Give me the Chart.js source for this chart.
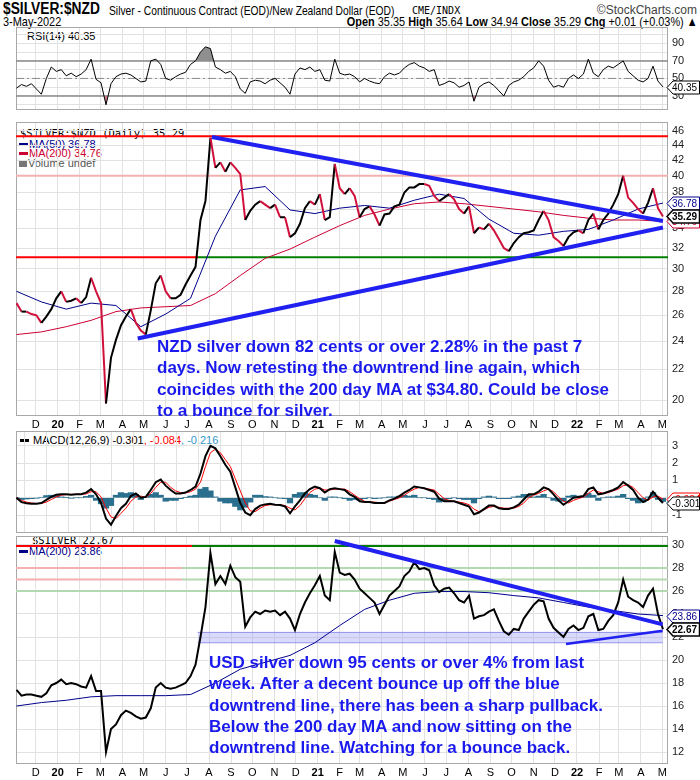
<!DOCTYPE html>
<html>
<head>
<meta charset="utf-8">
<title>$SILVER:$NZD</title>
<script src="https://cdn.jsdelivr.net/npm/chart.js@4.4.1/dist/chart.umd.min.js"></script>
<style>
  body { margin: 0; width: 700px; height: 780px; position: relative; overflow: hidden; background: #fff;
         font-family: 'Liberation Sans', Arial, sans-serif; color: #000; }
  canvas { position: absolute; left: 0; z-index: 1; }
  .lbl { position: absolute; white-space: nowrap; line-height: 1; z-index: 0; }
  .mono { font-family: 'DejaVu Sans Mono', monospace; font-size: 10.5px; }
  .key { font-size: 11px; }
  .bar { display: inline-block; width: 9px; height: 3px; vertical-align: middle; margin: 0 1px 2px 0; }
  .note { position: absolute; z-index: 2; color: #1a1aee; font: bold 17px 'Liberation Sans', Arial, sans-serif;
          line-height: 21.3px; white-space: nowrap; }
</style>
</head>
<body>

<div class="lbl" style="left:3px;top:1px;font-size:16px;font-weight:bold;transform:scaleX(.86);transform-origin:0 0">$SILVER:$NZD</div>
<div class="lbl" style="left:109px;top:4px;font-size:13px;transform:scaleX(.79);transform-origin:0 0">Silver - Continuous Contract (EOD)/New Zealand Dollar (EOD)</div>
<div class="lbl" style="left:412px;top:5px;font:10px 'DejaVu Sans Mono',monospace">CME/INDX</div>
<div class="lbl" style="right:3px;top:4px;font-size:12px;color:#444">©StockCharts.com</div>
<div class="lbl" style="left:3px;top:15px;font-size:13px;transform:scaleX(.84);transform-origin:0 0">3-May-2022</div>
<div class="lbl" style="right:2px;top:15px;font-size:13px;transform:scaleX(.84);transform-origin:100% 0"><b>Open</b> 35.35 <b>High</b> 35.64 <b>Low</b> 34.94 <b>Close</b> 35.29 <b>Chg</b> +0.01 (+0.03%) ▲</div>

<div class="lbl key" style="left:27px;top:31px">RSI(14) 40.35</div>

<div class="lbl mono" style="left:20px;top:128px">$SILVER:$NZD (Daily) 35.29</div>
<div class="lbl key" style="left:19px;top:139px;color:#00008b"><span class="bar" style="background:#00008b"></span>MA(50) 36.78</div>
<div class="lbl key" style="left:19px;top:148px;color:#cc0033"><span class="bar" style="background:#cc0033"></span>MA(200) 34.76</div>
<div class="lbl key" style="left:19px;top:158px;color:#555"><span class="bar" style="background:#777;width:8px;height:7px"></span>Volume undef</div>

<div class="lbl key" style="left:20px;top:435px"><span class="bar" style="background:#000"></span> MACD(12,26,9) -0.301<span style="color:#f00">, -0.084</span><span style="color:#3399cc">, -0.216</span></div>

<div class="lbl mono" style="left:32px;top:535px">$SILVER 22.67</div>
<div class="lbl key" style="left:19px;top:546px;color:#00008b"><span class="bar" style="background:#00008b"></span>MA(200) 23.86</div>

<div class="note" style="left:157px;top:336px">NZD silver down 82 cents or over 2.28% in the past 7<br>days. Now retesting the downtrend line again, which<br>coincides with the 200 day MA at $34.80. Could be close<br>to a bounce for silver.</div>
<div class="note" style="left:209px;top:652px">USD silver down 95 cents or over 4% from last<br>week. After a decent bounce up off the blue<br>downtrend line, there has been a sharp pullback.<br>Below the 200 day MA and now sitting on the<br>downtrend line. Watching for a bounce back.</div>

<canvas id="rsiChart" width="700" height="83" style="top:27px"></canvas>
<canvas id="nzdChart" width="700" height="310" style="top:122px"></canvas>
<canvas id="macdChart" width="700" height="102" style="top:431px"></canvas>
<canvas id="usdChart" width="700" height="244" style="top:536px"></canvas>

<script>
// one value per week, first week = Mon 4-Nov-2019 (day -27 counted from 1-Dec-2019)
const firstDay = -27;
const weekStep = 7;

const nzdClose = [27.0,26.3,26.3,26.1,26.0,25.4,25.9,26.5,27.4,28.0,27.1,27.2,27.4,27.0,27.5,29.2,28.0,27.0,19.8,22.8,
  24.1,25.2,25.9,26.5,25.4,24.8,24.5,26.4,28.7,29.4,28.0,27.4,27.4,27.7,28.6,29.4,30.2,34.9,37.0,45.0,
  41.0,41.7,40.5,41.7,41.0,40.2,34.9,35.9,36.6,37.0,36.6,36.2,36.6,35.2,35.2,33.1,33.5,34.5,36.2,37.0,
  36.6,37.8,34.9,35.2,41.5,38.5,37.8,38.5,37.6,35.2,36.1,36.4,35.5,34.3,35.5,35.6,36.4,36.6,38.0,38.6,
  38.6,39.0,39.0,38.8,37.6,37.0,37.4,37.8,37.2,36.1,35.6,36.4,33.5,34.1,33.9,34.5,33.8,32.9,32.0,31.7,
  32.5,33.1,33.5,33.6,33.8,34.9,35.9,34.9,33.1,32.7,32.2,33.1,33.6,33.8,33.5,34.9,35.6,33.9,34.9,35.6,
  36.6,37.8,40.0,37.4,36.8,36.1,35.6,36.8,38.5,36.2,35.29];

const usdClose = [17.4,16.9,17.0,17.0,16.9,16.8,17.1,17.8,18.0,18.3,17.9,18.0,17.9,17.7,17.6,18.6,17.3,17.3,12.0,14.0,
  14.4,15.2,15.6,15.4,15.1,14.9,15.0,15.8,17.6,18.0,17.6,17.5,17.6,17.8,18.0,18.6,19.6,22.0,24.6,29.3,
  26.6,27.3,26.6,28.2,27.2,26.8,22.9,23.7,24.2,24.0,24.3,24.2,24.3,23.9,24.2,23.6,22.6,24.0,25.0,25.8,
  26.5,27.3,25.6,25.2,29.4,27.6,27.4,27.5,27.0,26.2,25.8,25.4,25.0,24.0,24.8,25.6,26.0,26.4,27.3,27.7,
  28.5,27.9,28.0,27.8,26.5,25.9,26.2,26.3,25.8,25.2,25.0,25.6,23.6,23.8,23.9,24.2,24.4,23.4,22.5,22.2,
  22.7,22.6,23.6,24.2,24.8,25.2,25.1,23.6,22.8,22.4,22.0,22.7,23.0,22.6,22.8,23.8,24.0,22.6,22.7,23.4,
  23.9,25.0,27.0,25.5,25.2,25.0,24.6,25.6,26.2,24.0,22.67];

const rsi14 = [39,43,41,44,38,32,50,63,58,60,53,56,52,55,60,72,49,45,20,44,
  52,55,56,54,50,46,47,70,72,66,50,48,52,55,57,66,70,80,86,84,
  63,60,56,58,52,38,33,46,48,47,44,48,50,45,40,32,55,62,60,63,
  58,60,48,47,72,56,54,55,52,46,50,47,45,44,52,56,54,56,62,66,
  68,64,62,58,60,42,44,47,45,40,42,46,24,40,44,46,42,36,30,42,
  46,48,52,58,62,70,64,48,40,42,40,50,54,50,55,72,56,52,60,64,
  62,66,70,58,53,48,46,50,64,47,40.35];

const macdLine = [0,-0.25,-0.32,-0.35,-0.35,-0.3,-0.12,0.05,0.18,0.2,0.2,0.18,0.2,0.2,0.3,0.5,0.2,-0.3,-1.2,-1.55,
  -1.05,-0.6,-0.35,0.1,0.25,0,0.05,0.45,0.9,1.05,0.7,0.45,0.25,0.25,0.3,0.45,0.65,1.4,2.4,3.0,
  2.85,2.4,1.9,1.5,0.6,-0.3,-0.85,-1.0,-0.65,-0.45,-0.38,-0.35,-0.4,-0.42,-0.5,-0.9,-0.5,-0.15,0.25,0.5,
  0.65,0.55,0.3,0.5,0.55,0.5,0.45,0.2,0.05,-0.2,-0.25,-0.25,-0.3,-0.3,-0.3,-0.15,-0.05,0.1,0.3,0.45,
  0.65,0.6,0.55,0.45,0.35,-0.05,-0.2,-0.2,-0.2,-0.3,-0.4,-0.5,-0.95,-0.85,-0.65,-0.45,-0.45,-0.6,-0.65,-0.65,
  -0.55,-0.4,-0.1,0.2,0.2,0.35,0.6,0.5,0.2,-0.15,-0.4,-0.2,0,0.05,0.1,0.5,0.6,0.2,0.25,0.35,
  0.45,0.6,0.9,0.7,0.45,0,-0.25,-0.1,0.35,0,-0.301];

const macdSignal = [0,-0.15,-0.25,-0.3,-0.33,-0.33,-0.25,-0.1,0.05,0.15,0.18,0.2,0.2,0.2,0.22,0.35,0.35,0.05,-0.6,-1.1,
  -1.2,-0.9,-0.6,-0.2,0.05,0.1,0.02,0.25,0.6,0.9,0.9,0.6,0.4,0.3,0.28,0.35,0.5,0.9,1.8,2.6,
  2.8,2.6,2.2,1.8,1.1,0.4,-0.3,-0.75,-0.8,-0.6,-0.45,-0.4,-0.4,-0.4,-0.45,-0.6,-0.7,-0.45,-0.05,0.3,
  0.5,0.55,0.45,0.45,0.5,0.5,0.5,0.35,0.15,-0.05,-0.2,-0.25,-0.25,-0.28,-0.3,-0.2,-0.1,0,0.15,0.35,
  0.5,0.6,0.55,0.5,0.45,0.2,-0.05,-0.15,-0.2,-0.25,-0.3,-0.4,-0.65,-0.8,-0.7,-0.55,-0.5,-0.55,-0.6,-0.6,
  -0.6,-0.5,-0.3,0,0.15,0.25,0.4,0.5,0.35,0.05,-0.2,-0.3,-0.15,-0.05,0.05,0.25,0.45,0.35,0.25,0.3,
  0.4,0.5,0.7,0.75,0.6,0.3,0,-0.15,0.05,0.1,-0.084];

const macdHist = [0,-0.1,-0.07,-0.05,-0.02,0.03,0.13,0.15,0.13,0.05,0.02,-0.02,0,0,0.08,0.15,-0.15,-0.35,-0.6,-0.45,
  0.15,0.3,0.25,0.3,0.2,-0.1,0.03,0.2,0.3,0.15,-0.2,-0.15,-0.15,-0.05,0.02,0.1,0.15,0.5,0.6,0.4,
  0.05,-0.2,-0.3,-0.3,-0.5,-0.7,-0.55,-0.25,0.15,0.15,0.07,0.05,0,-0.02,-0.05,-0.3,0.2,0.3,0.3,0.2,
  0.15,0,-0.15,0.05,0.05,0,-0.05,-0.15,-0.1,-0.15,-0.05,0,-0.05,-0.02,0,0.05,0.05,0.1,0.15,0.1,
  0.15,0,0,-0.05,-0.1,-0.25,-0.15,-0.05,0,-0.05,-0.1,-0.1,-0.3,-0.05,0.05,0.1,0.05,-0.05,-0.05,-0.05,
  0.05,0.1,0.2,0.2,0.05,0.1,0.2,0,-0.15,-0.2,-0.2,0.1,0.15,0.1,0.05,0.25,0.15,-0.15,0,0.05,
  0.05,0.1,0.2,-0.05,-0.15,-0.3,-0.25,0.05,0.3,-0.1,-0.216];

// moving averages, read every 5th week
const maStep = 5;
const nzdMa50 = [28.0,27.1,26.5,27.0,26.8,25.1,26.1,27.4,33.2,38.3,38.7,36.0,35.6,36.2,36.5,36.2,37.1,37.8,37.3,35.0,
  33.5,33.3,33.7,33.9,34.9,36.1,36.78];
const nzdMa200 = [24.5,24.7,25.1,25.6,26.3,26.6,26.7,26.8,27.8,29.4,31.0,31.9,33.1,34.3,35.4,36.1,36.7,36.9,36.7,36.4,
  36.1,35.8,35.4,35.1,34.9,34.9,34.76];
const usdMa200 = [16.0,16.3,16.5,16.8,16.9,16.9,16.9,17.0,18.0,19.2,19.8,20.4,21.5,23.0,24.4,25.2,25.8,25.95,25.95,25.85,
  25.6,25.4,25.0,24.6,24.3,24.0,23.86];

// drawn-in lines: [day, price]
const nzdDownTrend = [[248, 45.1], [883, 34.8]];
const nzdUpTrend = [[143.6, 24.2], [883, 34.1]];
const usdDownTrend = [[421, 30.35], [882.6, 23.1]];
const usdUpTrend = [[746.5, 21.4], [882.6, 22.55]];
const nzdLevels = [45.2, 40, 31.1];
const usdLevels = [29.9, 28, 27, 26];
const usdBand = [21.5, 22.4];

const nzdTicks = [20, 22, 24, 26, 28, 30, 32, 34, 36, 38, 40, 42, 44, 46];
const usdTicks = [12, 14, 16, 18, 20, 22, 24, 26, 28, 30];
const rsiTicks = [20, 30, 40, 50, 60, 70, 80, 90, 100];
const rsiLabels = [30, 50, 70, 90];
const macdTicks = [-1, 0, 1, 2, 3];

const dayMin = -27.7, dayMax = 890.1;
const RED = '#d0103a', NAVY = '#00008b', BLUE = '#2020f0';

const monthStarts = [];
for (let y = 2019, m = 11; y < 2022 || m <= 4;) {
  const day = (Date.UTC(y, m, 1) - Date.UTC(2019, 11, 1)) / 864e5;
  monthStarts.push({ day, label: m === 0 ? String(y).slice(2) : 'JFMAMJJASOND'[m], year: m === 0 });
  m++;
  if (m > 11) { m = 0; y++; }
}

const weekX = i => firstDay + weekStep * i;
const series = (vals, step) => vals.map((v, i) => ({ x: weekX(i * step), y: v }));
const pts = arr => arr.map(p => ({ x: p[0], y: p[1] }));
const flat = (y, from, to) => [{ x: from, y }, { x: to, y }];
const line = (data, color, width, extra) =>
  Object.assign({ type: 'line', data, borderColor: color, borderWidth: width, pointRadius: 0, fill: false, tension: 0 }, extra);

const frame = {
  id: 'frame',
  beforeDatasetsDraw(chart) {
    const a = chart.chartArea, c = chart.ctx;
    c.save();
    c.strokeStyle = '#a8a8a8';
    c.lineWidth = 1;
    c.strokeRect(a.left + 0.5, a.top + 0.5, a.right - a.left - 1, a.bottom - a.top - 1);
    c.restore();
  }
};

// boxed last-value tags on the right axis
const tags = {
  id: 'tags',
  afterDatasetsDraw(chart, args, opts) {
    const c = chart.ctx, y = chart.scales.y, x0 = chart.chartArea.right;
    (opts.items || []).forEach(t => {
      const py = Math.round(y.getPixelForValue(t.value)) + 0.5;
      c.save();
      c.beginPath();
      c.moveTo(x0 - 1, py);
      c.lineTo(x0 + 5, py - 6.5);
      c.lineTo(699.5, py - 6.5);
      c.lineTo(699.5, py + 6.5);
      c.lineTo(x0 + 5, py + 6.5);
      c.closePath();
      c.fillStyle = '#fff';
      c.fill();
      c.strokeStyle = t.color;
      c.lineWidth = t.bold ? 1.5 : 1;
      c.stroke();
      c.fillStyle = t.color;
      c.font = (t.bold ? 'bold ' : '') + '10px "Liberation Sans", Arial';
      c.textBaseline = 'middle';
      c.fillText(t.text, x0 + 4, py + 0.5);
      c.restore();
    });
  }
};

function xAxis(labelPad) {
  const show = labelPad !== null;
  return {
    type: 'linear', min: dayMin, max: dayMax, offset: false,
    afterBuildTicks: s => { s.ticks = monthStarts.map(m => ({ value: m.day })); },
    afterFit: s => { s.height = show ? 16 : 0; s.paddingLeft = 0; s.paddingRight = 0; },
    grid: { color: '#e2e2e2', drawTicks: false },
    border: { display: false },
    ticks: {
      display: show, autoSkip: false, maxRotation: 0, padding: show ? labelPad : 0, color: '#000',
      font: c => ({ family: 'Liberation Sans', size: 11, weight: monthStarts[c.index] && monthStarts[c.index].year ? 'bold' : 'normal' }),
      callback: (v, i) => monthStarts[i] ? monthStarts[i].label : ''
    }
  };
}

function yAxis(type, min, max, ticks, labelled) {
  return {
    type, position: 'right', min, max,
    afterBuildTicks: s => { s.ticks = ticks.map(v => ({ value: v })); },
    afterFit: s => { s.width = 32; s.paddingTop = 0; s.paddingBottom = 0; },
    grid: { color: '#e2e2e2', drawTicks: false },
    border: { display: false },
    ticks: {
      padding: 4, color: '#222', autoSkip: false,
      font: { family: 'Liberation Sans', size: 11 },
      callback: v => labelled(v) ? String(v) : ''
    }
  };
}

function panel(id, datasets, y, labelPad, items) {
  return new Chart(document.getElementById(id), {
    type: 'line',
    data: { datasets },
    options: {
      responsive: false, animation: false, devicePixelRatio: 1, events: [],
      layout: { padding: { left: 16, right: 0, top: 0, bottom: 0 } },
      plugins: { legend: { display: false }, tooltip: { enabled: false }, tags: { items } },
      scales: { x: xAxis(labelPad), y }
    },
    plugins: [frame, tags]
  });
}

const last = a => a[a.length - 1];

// RSI
panel('rsiChart', [
  line(series(rsi14, 1), '#000', 1, { fill: { target: { value: 70 }, above: '#8f8f8f', below: 'rgba(0,0,0,0)' } }),
  line(series(rsi14, 1), 'rgba(0,0,0,0)', 0, { fill: { target: { value: 30 }, above: 'rgba(0,0,0,0)', below: '#c47888' } }),
  line(flat(70, dayMin, dayMax), '#8a8a8a', 1.5),
  line(flat(30, dayMin, dayMax), '#8a8a8a', 1.5),
  line(flat(50, dayMin, dayMax), '#8a8a8a', 1, { borderDash: [8, 3, 2, 3] })
], yAxis('linear', 14.05, 108.6, rsiTicks, v => rsiLabels.includes(v)), null,
  [{ value: last(rsi14), text: last(rsi14).toFixed(2), color: '#000' }]);

// NZD price panel
panel('nzdChart', [
  line(pts(nzdDownTrend), BLUE, 4),
  line(pts(nzdUpTrend), BLUE, 4),
  line(series(nzdClose, 1), '#000', 2, {
    segment: { borderColor: c => c.p1.parsed.y < c.p0.parsed.y ? RED : '#000' }
  }),
  line(series(nzdMa50, maStep), NAVY, 1),
  line(series(nzdMa200, maStep), '#cc0033', 1),
  line(flat(nzdLevels[0], dayMin, dayMax), '#ff0000', 2),
  line(flat(nzdLevels[1], dayMin, dayMax), '#f4b0b0', 2),
  line(flat(nzdLevels[2], dayMin, 228.5), '#ff0000', 2),
  line(flat(nzdLevels[2], 228.5, dayMax), '#008000', 2)
], yAxis('logarithmic', 19.05, 47.24, nzdTicks, () => true), 2, [
  { value: last(nzdMa200), text: last(nzdMa200).toFixed(2), color: '#cc0033' },
  { value: last(nzdMa50), text: last(nzdMa50).toFixed(2), color: NAVY },
  { value: last(nzdClose), text: last(nzdClose).toFixed(2), color: '#000', bold: true }
]);

// MACD
panel('macdChart', [
  line(series(macdLine, 1), '#000', 2),
  line(series(macdSignal, 1), '#ff0000', 1),
  { type: 'bar', data: series(macdHist, 1), backgroundColor: '#2b6f8e', borderWidth: 0, barThickness: 5.6 }
], yAxis('linear', -2.03, 3.85, macdTicks, v => v !== 0), null, [
  { value: last(macdHist), text: last(macdHist).toFixed(3), color: '#3399cc' },
  { value: last(macdSignal), text: last(macdSignal).toFixed(3), color: '#ff0000' },
  { value: last(macdLine), text: last(macdLine).toFixed(3), color: '#000' }
]);

// USD price panel
panel('usdChart', [
  line(pts(usdDownTrend), BLUE, 4),
  line(pts(usdUpTrend), BLUE, 2.5),
  line(series(usdClose, 1), '#000', 2),
  line(series(usdMa200, maStep), NAVY, 1),
  line(flat(usdBand[1], 228, 882.6), 'rgba(120,120,230,0.8)', 1,
    { fill: { target: { value: usdBand[0] }, above: 'rgba(150,150,250,0.35)', below: 'rgba(150,150,250,0.35)' } }),
  line(flat(usdBand[0], 228, 882.6), 'rgba(120,120,230,0.8)', 1),
  line(flat(usdLevels[0], dayMin, 220), '#ff0000', 2),
  line(flat(usdLevels[0], 220, dayMax), '#008000', 2),
  line(flat(usdLevels[1], dayMin, 206), '#f4b0b0', 2),
  line(flat(usdLevels[1], 206, dayMax), '#b4d8b0', 2),
  line(flat(usdLevels[2], dayMin, 206), '#f4b0b0', 2),
  line(flat(usdLevels[2], 206, dayMax), '#b4d8b0', 2),
  line(flat(usdLevels[3], dayMin, dayMax), '#b4d8b0', 2)
], yAxis('linear', 10.96, 30.78, usdTicks, () => true), 2, [
  { value: last(usdMa200), text: last(usdMa200).toFixed(2), color: NAVY },
  { value: last(usdClose), text: last(usdClose).toFixed(2), color: '#000', bold: true }
]);
</script>
</body>
</html>
